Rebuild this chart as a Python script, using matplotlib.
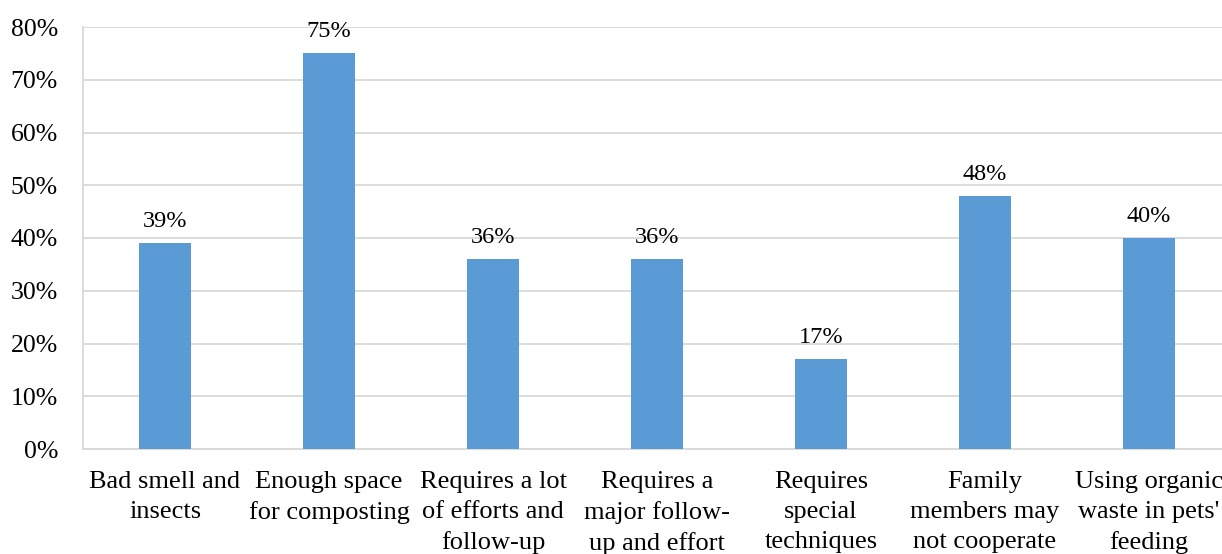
import matplotlib.pyplot as plt
from matplotlib.ticker import PercentFormatter

categories = ['Bad smell and\ninsects', 'Enough space\nfor composting',
              'Requires a lot\nof efforts and\nfollow-up', 'Requires a\nmajor follow-\nup and effort',
              'Requires\nspecial\ntechniques', 'Family\nmembers may\nnot cooperate',
              "Using organic\nwaste in pets'\nfeeding"]
values = [39, 75, 36, 36, 17, 48, 40]
yticks = [0, 10, 20, 30, 40, 50, 60, 70, 80]

plt.rcParams['font.family'] = ['Liberation Serif', 'DejaVu Serif']

fig = plt.figure(figsize=(12.22, 5.54), dpi=100)
# plot area runs past the right edge, as in the source image
ax = fig.add_axes([83 / 1222, 105 / 554, 1148 / 1222, 422 / 554])

x = range(len(values))
bars = ax.bar(x, values, width=0.317, color='#5B9BD5', zorder=3)
for b, v in zip(bars, values):
    ax.annotate(f'{v}%', (b.get_x() + b.get_width() / 2, v), xytext=(0, 8),
                textcoords='offset points', ha='center', va='bottom', fontsize=17.5)

ax.set_xlim(-0.5, len(values) - 0.5)
ax.set_ylim(0, 80)
ax.set_yticks(yticks)
ax.yaxis.set_major_formatter(PercentFormatter(decimals=0))
ax.set_xticks(list(x))
ax.set_xticklabels(categories, fontsize=19, linespacing=1.45)
ax.tick_params(axis='y', labelsize=18.5, length=0, pad=18)
ax.tick_params(axis='x', length=0, pad=16)
ax.grid(axis='y', color='#D9D9D9', linewidth=1.3, zorder=0)

for s in ['top', 'right']:
    ax.spines[s].set_visible(False)
ax.spines['left'].set_color('#D9D9D9')
ax.spines['bottom'].set_color('#D9D9D9')
ax.spines['left'].set_linewidth(1.3)
ax.spines['bottom'].set_linewidth(1.3)

fig.savefig('out.png', dpi=100)
